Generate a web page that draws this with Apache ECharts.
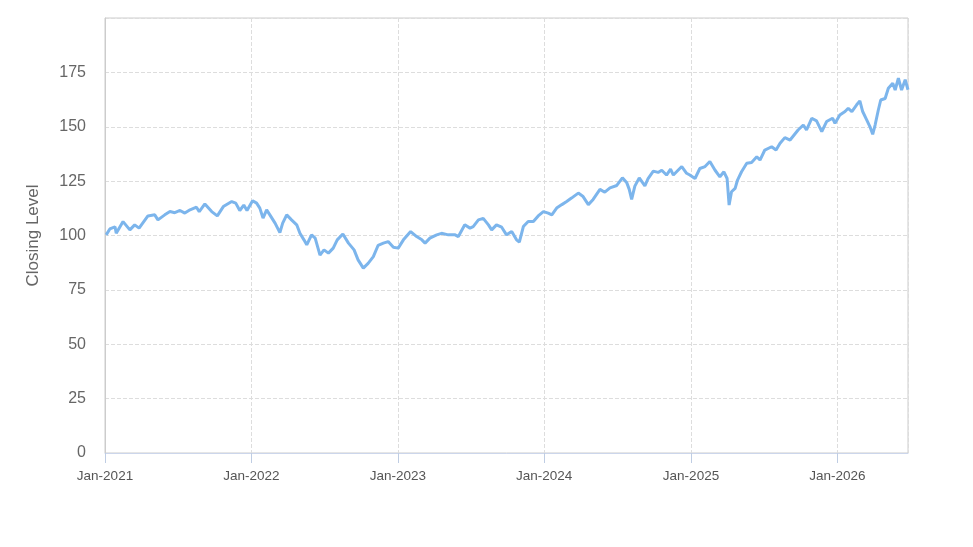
<!DOCTYPE html>
<html>
<head>
<meta charset="utf-8">
<script src="https://cdn.jsdelivr.net/npm/echarts@6/dist/echarts.min.js"></script>
<style>
html,body{margin:0;padding:0;background:#fff;}
#chart{width:973px;height:547px;}
</style>
</head>
<body>
<div id="chart"></div>
<script>
const dates = [
"2021-01-04","2021-01-13","2021-01-26","2021-01-29","2021-02-15","2021-03-04","2021-03-16","2021-03-27","2021-04-18","2021-05-05",
"2021-05-13","2021-05-30","2021-06-12","2021-06-24","2021-07-07","2021-07-19","2021-08-01","2021-08-17","2021-08-24","2021-09-07",
"2021-09-24","2021-10-08","2021-10-23","2021-11-13","2021-11-23","2021-12-03","2021-12-13","2021-12-21","2022-01-04","2022-01-14",
"2022-01-22","2022-01-30","2022-02-08","2022-02-16","2022-03-01","2022-03-13","2022-03-20","2022-03-30","2022-04-11","2022-04-24",
"2022-05-02","2022-05-12","2022-05-19","2022-05-31","2022-06-09","2022-06-21","2022-07-01","2022-07-12","2022-07-24","2022-08-03",
"2022-08-17","2022-08-31","2022-09-14","2022-09-24","2022-10-07","2022-10-19","2022-11-01","2022-11-13","2022-11-26","2022-12-08",
"2022-12-21","2023-01-02","2023-01-15","2023-02-02","2023-02-17","2023-03-02","2023-03-10","2023-03-22","2023-04-08","2023-04-20",
"2023-05-07","2023-05-24","2023-06-01","2023-06-17","2023-06-30","2023-07-08","2023-07-21","2023-08-02","2023-08-15","2023-08-23",
"2023-09-04","2023-09-17","2023-09-29","2023-10-12","2023-10-24","2023-10-31","2023-11-10","2023-11-22","2023-12-05","2023-12-17",
"2023-12-30","2024-01-11","2024-01-20","2024-02-01","2024-02-14","2024-02-26","2024-03-09","2024-03-26","2024-04-07","2024-04-20",
"2024-05-02","2024-05-19","2024-05-31","2024-06-13","2024-06-30","2024-07-14","2024-07-25","2024-07-31","2024-08-06","2024-08-14",
"2024-08-25","2024-09-08","2024-09-16","2024-09-29","2024-10-11","2024-10-20","2024-11-01","2024-11-11","2024-11-18","2024-12-09",
"2024-12-21","2024-12-29","2025-01-11","2025-01-23","2025-02-05","2025-02-17","2025-03-02","2025-03-14","2025-03-24","2025-04-01",
"2025-04-06","2025-04-12","2025-04-21","2025-04-27","2025-05-07","2025-05-20","2025-06-01","2025-06-14","2025-06-22","2025-07-04",
"2025-07-21","2025-08-01","2025-08-11","2025-08-23","2025-09-05","2025-09-15","2025-09-25","2025-10-08","2025-10-16","2025-10-29",
"2025-11-10","2025-11-23","2025-12-05","2025-12-20","2025-12-26","2026-01-07","2026-01-20","2026-01-28","2026-02-06","2026-02-18",
"2026-02-26","2026-03-05","2026-03-15","2026-03-23","2026-03-30","2026-04-05","2026-04-13","2026-04-19","2026-04-30","2026-05-08",
"2026-05-19","2026-05-25","2026-06-02","2026-06-10","2026-06-19","2026-06-26"
];
const closingLevel = [
100.3,103,104,101,106.4,102.6,104.9,103.4,109,109.5,
107.2,109.5,111,110.5,111.5,110.3,111.8,113,111,114.5,
111,109,113.3,115.6,114.9,111.5,114,111.5,116,114.9,
112.6,108,111.8,109.5,105.7,101.3,105.7,109.5,107.2,104.9,
101,98,95.7,100.3,98.8,91,93.4,91.9,94.2,98,
100.7,96.5,93.4,88.8,85,87.2,90.3,95.5,96.5,97.2,
94.6,94.2,98,101.8,99.5,98,96.5,98.8,100.3,101,
100.3,100.3,99.5,104.9,103.4,104.1,107.2,107.9,104.9,102.6,
104.9,103.8,100.3,101.8,98,97,104.1,106.4,106.4,109,
111,110.3,109.5,112.6,114.2,115.6,117.2,119.5,117.9,114.2,
116.6,121.2,119.9,121.9,123,126.5,124.2,121.2,116.6,122.7,
126.5,122.8,126.2,129.6,129,130,127.8,130.5,127.8,131.7,
128.6,127.8,126.2,130.8,131.7,134,130,127,129.3,126.2,
114,120.1,121.7,125.5,129.3,133.2,133.6,136.2,134.7,139.3,
140.8,139.3,142.4,145,143.9,146.2,148.5,150.8,148.5,153.9,
152.7,147.8,152.4,153.9,151.6,155.4,157,158.5,157,160.1,
161.9,157,153.2,150.1,146.5,150.8,157.7,162.3,163,167.7,
170,166.9,172.3,166.9,171.6,167
];
const yTicks = [0,25,50,75,100,125,150,175];
const xStart = "2021-01-01";

const chart = echarts.init(document.getElementById('chart'), null, {renderer:'canvas'});
const seriesData = dates.map((d,i)=>[d, closingLevel[i]]);
const DAY = 86400000;
chart.setOption({
  animation:false,
  backgroundColor:'#ffffff',
  textStyle:{fontFamily:'"Liberation Sans", Arial, sans-serif'},
  grid:{left:105,right:65,top:18,bottom:94,show:true,borderColor:'#cccccc',borderWidth:1,containLabel:false},
  xAxis:{
    type:'time',
    min:xStart,
    max:dates[dates.length-1],
    minInterval:365*DAY,
    maxInterval:366*DAY,
    axisLine:{show:true,lineStyle:{color:'#ccd6eb',width:1}},
    axisTick:{show:true,length:10,lineStyle:{color:'#bfcde3'}},
    splitLine:{show:true,lineStyle:{color:'#dddddd',type:'dashed',width:1}},
    axisLabel:{color:'#555555',fontSize:13.5,margin:16,hideOverlap:false,showMinLabel:true,
      formatter:function(v){const d=new Date(v);return 'Jan-'+d.getFullYear();}}
  },
  yAxis:{
    type:'value',
    min:0,max:200,interval:25,
    name:'Closing Level',nameLocation:'middle',nameGap:63,nameRotate:90,
    nameTextStyle:{color:'#666666',fontSize:17},
    axisLine:{show:true,lineStyle:{color:'#cccccc'}},
    axisTick:{show:false},
    splitLine:{show:true,lineStyle:{color:'#dddddd',type:'dashed',width:1}},
    axisLabel:{color:'#666666',fontSize:16,margin:19,showMaxLabel:false,
      formatter:function(v){return yTicks.indexOf(v)>=0?String(v):'';}}
  },
  series:[{
    type:'line',
    data:seriesData,
    showSymbol:false,
    smooth:false,
    lineStyle:{color:'#7cb5ec',width:3},
    itemStyle:{color:'#7cb5ec'}
  }]
});
</script>
</body>
</html>
